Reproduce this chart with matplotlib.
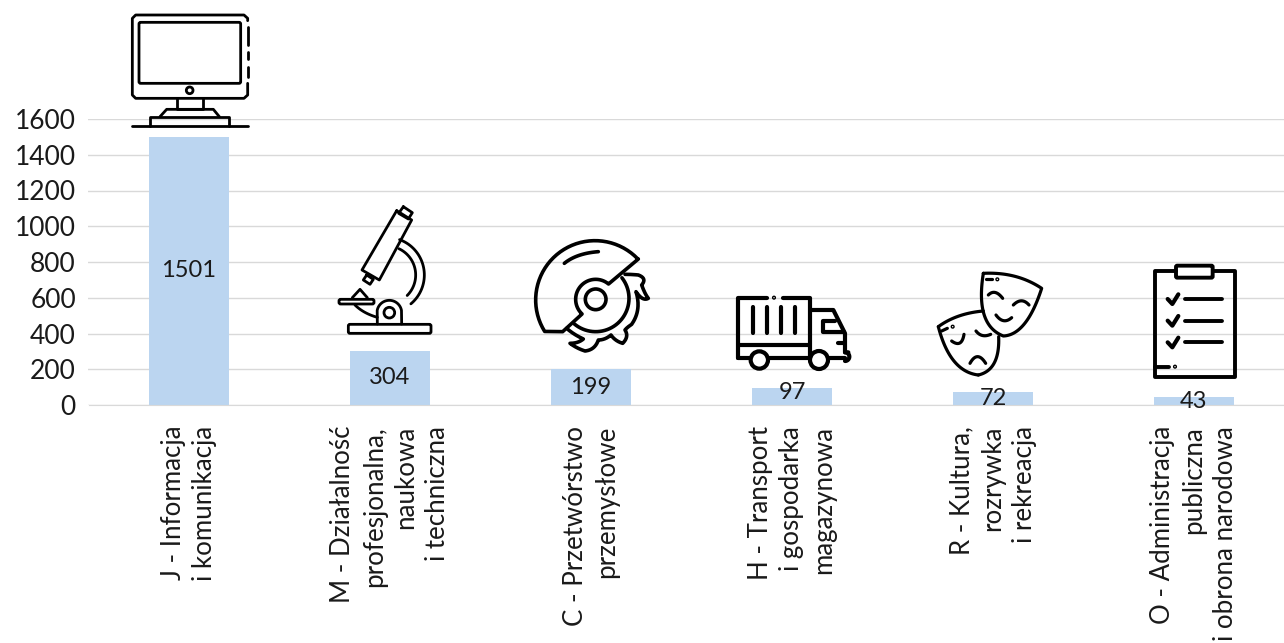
import numpy as np
import matplotlib
matplotlib.use("Agg")
import matplotlib.pyplot as plt
from matplotlib.patches import Circle, FancyBboxPatch

plt.rcParams['font.family'] = ['Lato', 'DejaVu Sans']

categories = [
    "J - Informacja\ni komunikacja",
    "M - Działalność\nprofesjonalna,\nnaukowa\ni techniczna",
    "C - Przetwórstwo\nprzemysłowe",
    "H - Transport\ni gospodarka\nmagazynowa",
    "R - Kultura,\nrozrywka\ni rekreacja",
    "O - Administracja\npubliczna\ni obrona narodowa",
]
values = [1501, 304, 199, 97, 72, 43]
label_offsets = [0, 0, 0, 3, 0, 0]
yticks = [0, 200, 400, 600, 800, 1000, 1200, 1400, 1600]

W, H = 1284, 643
INK = "#1a1a1a"

fig = plt.figure(figsize=(W / 100, H / 100), dpi=100)
ax = fig.add_axes([88.5 / W, 1 - 405 / H, (W - 88.5) / W, 286 / H])

x = np.arange(len(values))
ax.bar(x, values, width=0.4, color="#BBD5F0", zorder=2)
ax.set_xlim(-0.5, (W - 189) / 201)
ax.set_ylim(0, 1600)
ax.set_yticks(yticks)
ax.tick_params(axis="y", length=0, labelsize=19, labelcolor=INK, pad=9)
ax.set_xticks(x)
ax.set_xticklabels(categories, rotation=90, fontsize=18.6, color=INK, ha="center",
                   va="top", multialignment="right", linespacing=1.32)
ax.tick_params(axis="x", length=0, pad=15)
ax.grid(axis="y", color="#D9D9D9", lw=1, zorder=1)
for s in ["top", "left", "right"]:
    ax.spines[s].set_visible(False)
ax.spines["bottom"].set_color("#D9D9D9")

for i, v in enumerate(values):
    ax.annotate(str(v), (i, v / 2), xytext=(0, label_offsets[i]), textcoords="offset points",
                ha="center", va="center", fontsize=17, color=INK, zorder=3)

# icons, drawn in pixel space over the chart; coords are relative to a crop origin at 3x
ov = fig.add_axes([0, 0, 1, 1], facecolor="none")
ov.set_xlim(0, W)
ov.set_ylim(H, 0)
ov.axis("off")


def line(pts, org, lw=2.0, closed=False, ls="-"):
    p = np.array(pts, dtype=float) / 3 + org
    if closed:
        p = np.vstack([p, p[0]])
    ov.plot(p[:, 0], p[:, 1], color="black", lw=lw, ls=ls, solid_capstyle="round",
            solid_joinstyle="round")


def arc(cx, cy, rx, ry, a0, a1, n=40):
    t = np.radians(np.linspace(a0, a1, n))
    return np.column_stack([cx + rx * np.cos(t), cy - ry * np.sin(t)])


def curve(a, c, b, n=30):
    a, c, b = np.array(a, float), np.array(c, float), np.array(b, float)
    t = np.linspace(0, 1, n)[:, None]
    return (1 - t) ** 2 * a + 2 * t * (1 - t) * c + t ** 2 * b


def circ(cx, cy, r, org, lw=2.0):
    ov.add_patch(Circle((cx / 3 + org[0], cy / 3 + org[1]), r / 3, fill=False, ec="black", lw=lw))


def rrect(x0, y0, x1, y1, org, pad=6, lw=2.0):
    ov.add_patch(FancyBboxPatch((x0 / 3 + org[0] + pad / 3, y0 / 3 + org[1] + pad / 3),
                                (x1 - x0 - 2 * pad) / 3, (y1 - y0 - 2 * pad) / 3,
                                boxstyle=f"round,pad={pad / 3}", fill=False, ec="black", lw=lw))


# monitor
o = np.array([120, 0])
line([(383, 62), (383, 55), (372, 45), (47, 45), (37, 55), (37, 285), (47, 295), (372, 295), (383, 285), (383, 250)], o)
for y0, y1 in [(80, 135), (155, 178), (200, 230)]:
    line([(383, y0), (383, y1)], o)
rrect(57, 67, 362, 250, o, pad=5)
circ(209, 271, 10, o)
line([(170, 295), (170, 328), (248, 328), (248, 295)], o)
line([(120, 350), (140, 328), (280, 328), (298, 350)], o)
line([(90, 378), (90, 352), (328, 352), (328, 378)], o)
line([(37, 378), (383, 378)], o)

# microscope
mlw = 2.0
line([(830, 632), (875, 660), (778, 840), (726, 810)], o, lw=mlw, closed=True)
line([(850, 620), (877, 638), (865, 657), (836, 640)], o, lw=mlw, closed=True)
line([(740, 825), (760, 838), (750, 853), (730, 840)], o, lw=mlw, closed=True)
line(arc(800, 825, 113, 113, 70, -50), o, lw=mlw)
line(arc(800, 825, 87, 87, 65, -45), o, lw=mlw)
line(curve((705, 915), (730, 940), (772, 952)), o, lw=mlw)
line(np.vstack([[(772, 972)], arc(808, 938, 37, 37, 170, 10), [(845, 972)]]), o, lw=mlw)
circ(808, 938, 16, o, lw=mlw)
rrect(685, 973, 933, 1000, o, pad=5, lw=mlw)
rrect(657, 898, 762, 912, o, pad=5, lw=mlw)
line([(697, 893), (720, 868), (742, 893)], o, lw=mlw)

# saw
o = np.array([530, 235])
slw = 2.6
guard = np.vstack([arc(195, 195, 178, 178, 44, 212), [(98, 290), (155, 238)],
                   arc(197, 193, 60, 60, 227, 50), [(325, 72)]])
line(guard, o, lw=slw)
circ(197, 193, 31, o, lw=slw)
line(arc(197, 190, 100, 100, 38, -130), o, lw=slw)
line(curve((103, 85), (140, 55), (205, 50)), o, lw=slw)
teeth = np.vstack([curve((285, 118), (305, 118), (325, 120)), curve((325, 120), (352, 130), (335, 150)),
                   curve((335, 150), (345, 178), (355, 190)), curve((355, 190), (338, 200), (318, 170)),
                   curve((318, 170), (335, 225), (305, 268)), curve((305, 268), (290, 278), (285, 285)),
                   curve((285, 285), (298, 305), (278, 325)), curve((278, 325), (255, 318), (243, 300)),
                   curve((243, 300), (225, 315), (205, 315)), curve((205, 315), (195, 345), (165, 348)),
                   curve((165, 348), (140, 340), (120, 325)), curve((120, 325), (145, 325), (160, 312)),
                   curve((160, 312), (130, 298), (110, 280))])
line(teeth, o, lw=slw)

# truck
o = np.array([520, 230])
lw = 3.0
line([(655, 385), (655, 203), (740, 203)], o, lw=lw)
line([(788, 203), (870, 203), (870, 385)], o, lw=lw)
circ(762, 203, 2, o)
line([(655, 345), (870, 345)], o, lw=lw)
line([(655, 385), (690, 385)], o, lw=lw)
line([(745, 385), (870, 385)], o, lw=lw)
line([(925, 385), (975, 385)], o, lw=lw)
line(arc(975, 380, 13, 13, 90, -90), o, lw=lw)
circ(718, 390, 26, o, lw=lw)
circ(897, 390, 27, o, lw=lw)
line([(870, 240), (940, 240), (975, 310), (975, 367), (985, 367)], o, lw=lw)
line([(945, 272), (910, 272), (910, 305), (972, 305)], o, lw=lw)
line([(955, 340), (975, 340)], o, lw=lw)
for bx in [698, 742, 782, 825]:
    line([(bx, 232), (bx, 310)], o, lw=lw)

# masks
o = np.array([920, 255])
lw = 2.3
upper = np.vstack([curve((190, 55), (290, 50), (365, 100)), curve((365, 100), (320, 240), (250, 243)),
                   curve((250, 243), (165, 210), (190, 55))])
line(upper, o, lw=lw)
line(curve((205, 120), (225, 100), (248, 130)), o, lw=lw)
line(curve((280, 150), (305, 125), (327, 150)), o, lw=lw)
line(curve((228, 180), (250, 210), (275, 188)), o, lw=lw)
line([(198, 72), (215, 72)], o, lw=lw)
circ(232, 73, 2, o)
lower = [curve((190, 168), (110, 175), (55, 215)), curve((55, 215), (90, 350), (175, 360)),
         curve((175, 360), (240, 345), (236, 245))]
for seg in lower:
    line(seg, o, lw=lw)
line(curve((95, 258), (125, 280), (132, 238)), o, lw=lw)
line(curve((168, 228), (185, 250), (212, 238)), o, lw=lw)
line(curve((150, 325), (172, 285), (197, 325)), o, lw=lw)
line([(65, 228), (82, 220)], o, lw=lw)
circ(98, 215, 2, o)

# clipboard
lw = 2.8
line([(768, 48), (705, 48), (705, 365), (945, 365), (945, 48), (878, 48)], o, lw=lw)
rrect(768, 32, 878, 68, o, pad=4, lw=lw)
for cy in [132, 197, 262]:
    line([(743, cy), (757, cy + 15), (775, cy - 14)], o, lw=3)
    line([(795, cy), (905, cy)], o, lw=lw)
line([(705, 335), (748, 335)], o, lw=lw)
circ(765, 335, 2, o)

fig.savefig("out.png", dpi=100)
